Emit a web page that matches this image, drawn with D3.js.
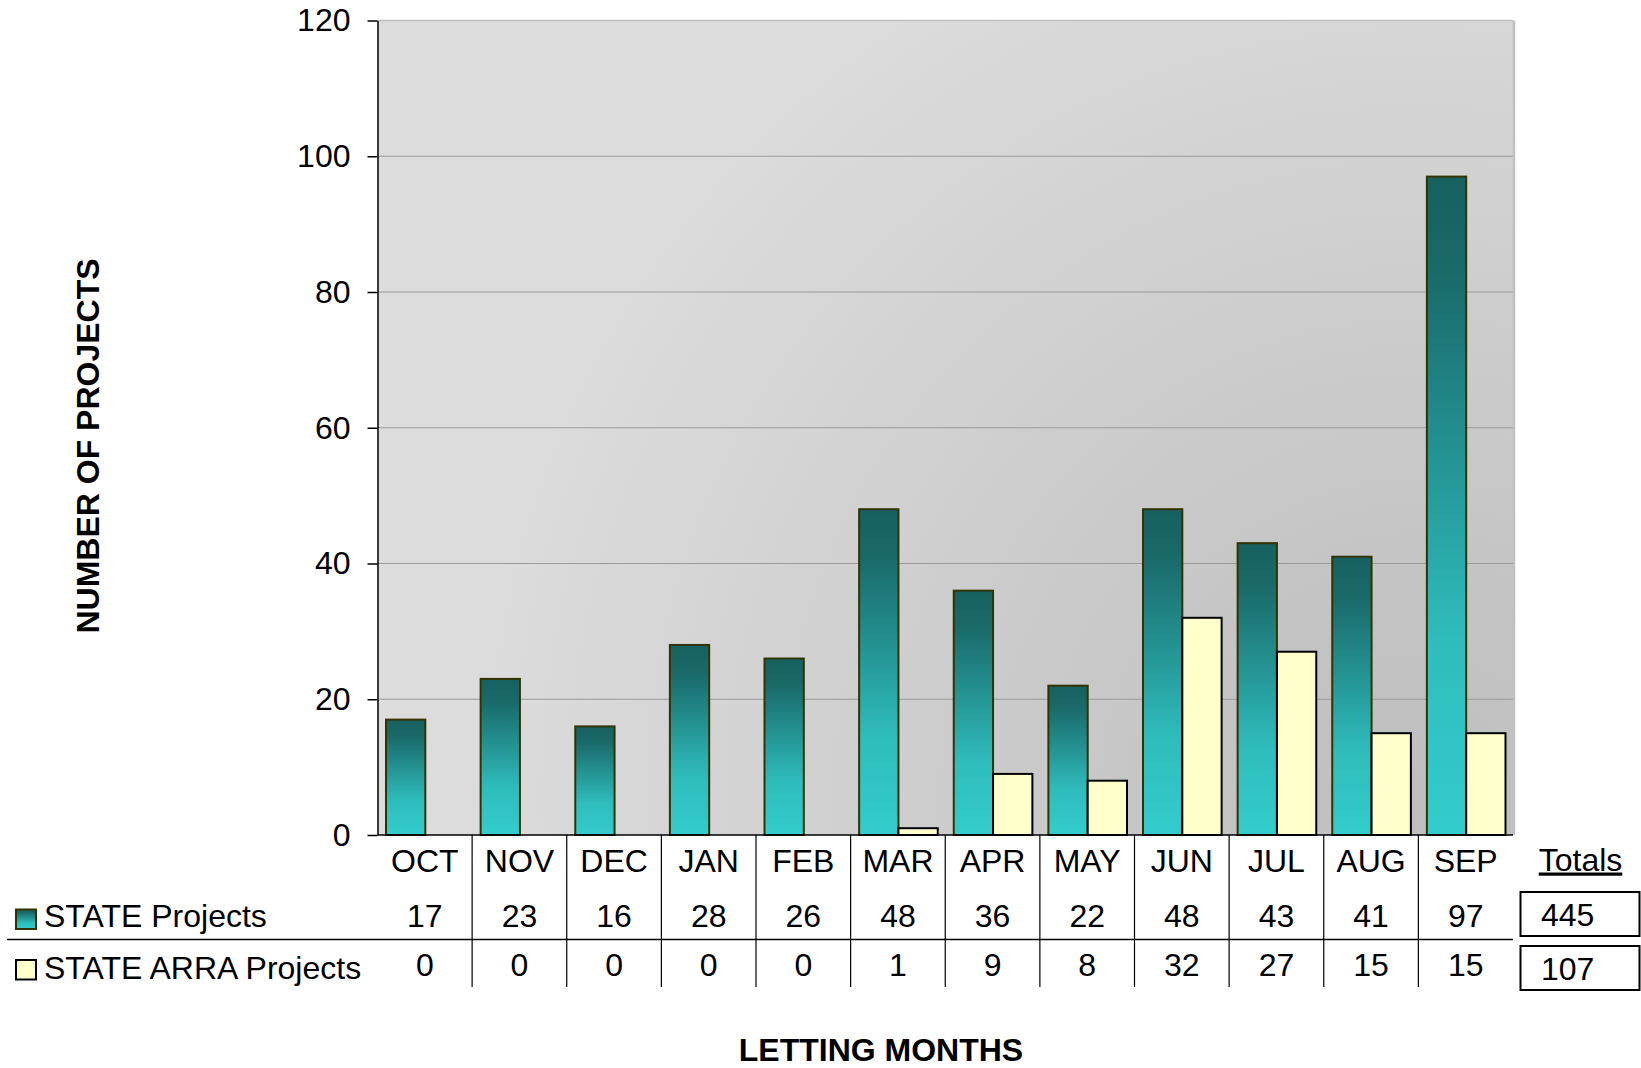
<!DOCTYPE html>
<html>
<head>
<meta charset="utf-8">
<script src="https://cdn.jsdelivr.net/npm/d3@7"></script>
<style>
  html, body { margin: 0; padding: 0; background: #fff; }
  svg { display: block; }
</style>
</head>
<body>
<div id="chart"></div>
<script>
const months = ['OCT', 'NOV', 'DEC', 'JAN', 'FEB', 'MAR', 'APR', 'MAY', 'JUN', 'JUL', 'AUG', 'SEP'];
const stateProjects = [17, 23, 16, 28, 26, 48, 36, 22, 48, 43, 41, 97];
const arraProjects = [0, 0, 0, 0, 0, 1, 9, 8, 32, 27, 15, 15];
const seriesNames = ['STATE Projects', 'STATE ARRA Projects'];
const yTicks = [0, 20, 40, 60, 80, 100, 120];

const width = 1641;
const height = 1068;
const font = '"Liberation Sans", Arial, sans-serif';
const fs = 32;

const plot = { left: 377.5, right: 1513, top: 20.5, bottom: 835 };

const svg = d3.select('#chart')
  .append('svg')
  .attr('width', width)
  .attr('height', height)
  .style('font-family', font);

const defs = svg.append('defs');

const bg = defs.append('radialGradient')
  .attr('id', 'bg')
  .attr('gradientUnits', 'userSpaceOnUse')
  .attr('cx', 1420).attr('cy', 800).attr('r', 950);
bg.append('stop').attr('offset', 0).attr('stop-color', '#bfbfbf');
bg.append('stop').attr('offset', 0.2).attr('stop-color', '#c3c3c3');
bg.append('stop').attr('offset', 1).attr('stop-color', '#dcdcdc');

const teal = defs.append('linearGradient')
  .attr('id', 'teal')
  .attr('x1', 0).attr('y1', 0).attr('x2', 0).attr('y2', 1);
teal.append('stop').attr('offset', 0).attr('stop-color', '#176060');
teal.append('stop').attr('offset', 0.15).attr('stop-color', '#1a6a6a');
teal.append('stop').attr('offset', 0.7).attr('stop-color', '#2fbcbc');
teal.append('stop').attr('offset', 1).attr('stop-color', '#33cccc');

const x0 = d3.scaleBand()
  .domain(months)
  .range([plot.left, plot.right])
  .padding(0);

const x1 = d3.scaleBand()
  .domain(seriesNames)
  .range([8.5, x0.bandwidth() - 7.5])
  .padding(0);

const y = d3.scaleLinear()
  .domain([0, 120])
  .range([plot.bottom, plot.top]);

// plot background
svg.append('rect')
  .attr('x', plot.left)
  .attr('y', plot.top)
  .attr('width', plot.right - plot.left)
  .attr('height', plot.bottom - plot.top)
  .attr('fill', 'url(#bg)');

svg.append('line')
  .attr('x1', plot.left).attr('x2', plot.right)
  .attr('y1', plot.top).attr('y2', plot.top)
  .attr('stroke', '#c0c0c0').attr('stroke-width', 1.5);

svg.append('line')
  .attr('x1', plot.right + 1).attr('x2', plot.right + 1)
  .attr('y1', plot.top).attr('y2', plot.bottom)
  .attr('stroke', '#c0c0c0').attr('stroke-width', 2.5);

// gridlines
svg.append('g')
  .selectAll('line')
  .data(yTicks.filter(d => d > 0 && d < 120))
  .enter()
  .append('line')
  .attr('x1', plot.left).attr('x2', plot.right)
  .attr('y1', d => y(d)).attr('y2', d => y(d))
  .attr('stroke', '#9a9a9a')
  .attr('stroke-width', 1.2);

// bars
const rows = months.map((m, i) => ({ month: m, values: [stateProjects[i], arraProjects[i]] }));

const group = svg.append('g')
  .selectAll('g')
  .data(rows)
  .enter()
  .append('g')
  .attr('transform', d => `translate(${x0(d.month)},0)`);

group.selectAll('rect')
  .data(d => d.values.map((v, k) => ({ series: seriesNames[k], k, value: v })).filter(e => e.value > 0))
  .enter()
  .append('rect')
  .attr('x', d => x1(d.series))
  .attr('y', d => y(d.value))
  .attr('width', x1.bandwidth())
  .attr('height', d => y(0) - y(d.value))
  .attr('fill', d => d.k === 0 ? 'url(#teal)' : '#ffffcc')
  .attr('stroke', d => d.k === 0 ? '#333300' : '#000')
  .attr('stroke-width', 2);

// y axis
const yAxis = svg.append('g')
  .attr('transform', `translate(${plot.left},0)`)
  .call(d3.axisLeft(y).tickValues(yTicks).tickSize(10).tickPadding(17).tickSizeOuter(0));

yAxis.select('.domain').attr('stroke', '#000').attr('stroke-width', 1.5);
yAxis.selectAll('.tick line').attr('stroke', '#000').attr('stroke-width', 1.5);
yAxis.selectAll('.tick text')
  .attr('font-size', fs)
  .attr('font-family', font)
  .attr('fill', '#000');

// zero line
svg.append('line')
  .attr('x1', plot.left).attr('x2', plot.right)
  .attr('y1', y(0)).attr('y2', y(0))
  .attr('stroke', '#000').attr('stroke-width', 1.5);

// data table
const table = svg.append('g');

table.selectAll('.sep')
  .data(months.slice(1))
  .enter()
  .append('line')
  .attr('x1', d => x0(d)).attr('x2', d => x0(d))
  .attr('y1', y(0)).attr('y2', 987)
  .attr('stroke', '#000').attr('stroke-width', 1.2);

table.append('line')
  .attr('x1', 7).attr('x2', plot.right)
  .attr('y1', 939.5).attr('y2', 939.5)
  .attr('stroke', '#000').attr('stroke-width', 1.5);

table.selectAll('.month')
  .data(months)
  .enter()
  .append('text')
  .attr('x', d => x0(d) + x0.bandwidth() / 2)
  .attr('y', 871.5)
  .attr('text-anchor', 'middle')
  .attr('font-size', fs)
  .text(d => d);

const rowY = [926.5, 975.5];
[stateProjects, arraProjects].forEach((vals, k) => {
  table.selectAll('.v' + k)
    .data(vals)
    .enter()
    .append('text')
    .attr('x', (d, i) => x0(months[i]) + x0.bandwidth() / 2)
    .attr('y', rowY[k])
    .attr('text-anchor', 'middle')
    .attr('font-size', fs)
    .text(d => d);
});

// legend keys
const legendY = [909.5, 960];
seriesNames.forEach((name, k) => {
  table.append('rect')
    .attr('x', 16).attr('y', legendY[k])
    .attr('width', 20).attr('height', 19.5)
    .attr('fill', k === 0 ? 'url(#teal)' : '#ffffcc')
    .attr('stroke', k === 0 ? '#333300' : '#000')
    .attr('stroke-width', 2);
  table.append('text')
    .attr('x', 44)
    .attr('y', rowY[k] + (k === 0 ? 0.5 : 3.5))
    .attr('font-size', fs)
    .text(name);
});

// totals
svg.append('text')
  .attr('x', 1580.5)
  .attr('y', 870.5)
  .attr('text-anchor', 'middle')
  .attr('font-size', fs)
  .attr('text-decoration', 'underline')
  .text('Totals');

const totals = [d3.sum(stateProjects), d3.sum(arraProjects)];
const boxY = [892, 946];
totals.forEach((t, k) => {
  svg.append('rect')
    .attr('x', 1520.5).attr('y', boxY[k])
    .attr('width', 119).attr('height', 44)
    .attr('fill', '#fff')
    .attr('stroke', '#000')
    .attr('stroke-width', 2);
  svg.append('text')
    .attr('x', 1541)
    .attr('y', k === 0 ? 926 : 979.5)
    .attr('font-size', fs)
    .text(t);
});

// axis titles
svg.append('text')
  .attr('transform', 'translate(99,446) rotate(-90)')
  .attr('text-anchor', 'middle')
  .attr('font-size', fs)
  .attr('font-weight', 'bold')
  .text('NUMBER OF PROJECTS');

svg.append('text')
  .attr('x', 881)
  .attr('y', 1061)
  .attr('text-anchor', 'middle')
  .attr('font-size', fs)
  .attr('font-weight', 'bold')
  .text('LETTING MONTHS');
</script>
</body>
</html>
